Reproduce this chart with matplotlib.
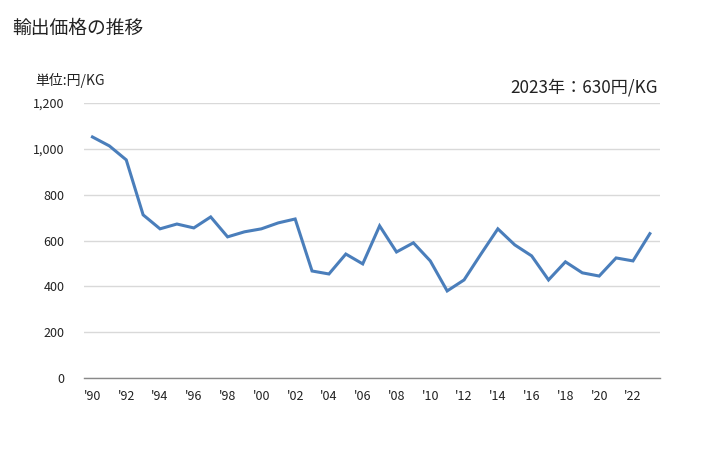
import matplotlib
matplotlib.use("Agg")
import matplotlib.pyplot as plt
from matplotlib.ticker import FuncFormatter

plt.rcParams['font.family'] = ['Noto Sans CJK JP', 'DejaVu Sans']

# data (円/KG)
years = list(range(1990, 2024))
prices = [1052, 1013, 952, 712, 651, 672, 655, 703, 616, 638,
          651, 677, 694, 467, 454, 541, 498, 664, 550, 590,
          511, 380, 428, 541, 651, 581, 533, 428, 507, 459,
          445, 524, 511, 630]
tick_years = list(range(1990, 2023, 2))
y_ticks = [0, 200, 400, 600, 800, 1000, 1200]

title = "輸出価格の推移"
unit_label = "単位:円/KG"
latest_label = "2023年：630円/KG"

line_color = "#4a7ebb"

fig = plt.figure(figsize=(7.28, 4.5), dpi=100)
ax = fig.add_axes([0.1154, 0.16, 0.7912, 0.611])

ax.plot(years, prices, color=line_color, linewidth=2.2, solid_joinstyle='miter')

ax.set_xlim(1989.5, 2023.6)
ax.set_ylim(0, 1200)
ax.set_yticks(y_ticks)
ax.yaxis.set_major_formatter(FuncFormatter(lambda v, p: f"{int(v):,}"))
ax.set_xticks(tick_years)
ax.set_xticklabels([f"'{y % 100:02d}" for y in tick_years])

ax.grid(axis='y', color='#d9d9d9', linewidth=1.0)
ax.set_axisbelow(True)
for side in ['top', 'right', 'left']:
    ax.spines[side].set_visible(False)
ax.spines['bottom'].set_color('#898989')
ax.spines['bottom'].set_linewidth(1.0)
ax.tick_params(axis='both', length=0, labelsize=9, colors='#222222')
ax.tick_params(axis='x', pad=9)
ax.tick_params(axis='y', pad=14)

fig.text(12 / 728, 1 - 28 / 450, title, fontsize=13.5, va='center', ha='left', color='#222222')
fig.text(35 / 728, 1 - 80 / 450, unit_label, fontsize=10, va='center', ha='left', color='#222222')
fig.text(658 / 728, 1 - 88 / 450, latest_label, fontsize=12.3, va='center', ha='right', color='#222222')

fig.savefig("out.png", dpi=100)
